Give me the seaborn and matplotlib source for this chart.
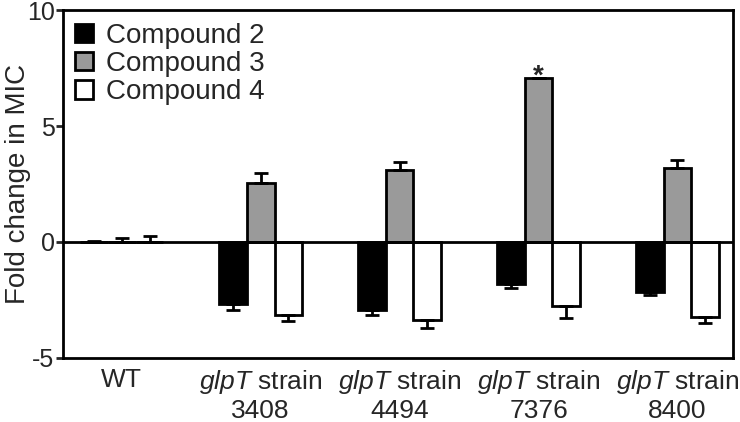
import matplotlib
matplotlib.use("Agg")
import matplotlib.pyplot as plt
import numpy as np
import pandas as pd
import seaborn as sns

sns.set_style("white")
plt.rcParams['font.family'] = ['Liberation Sans', 'DejaVu Sans']
plt.rcParams['mathtext.fontset'] = 'custom'
plt.rcParams['mathtext.it'] = 'Liberation Sans:italic'
plt.rcParams['mathtext.rm'] = 'Liberation Sans'
plt.rcParams['axes.unicode_minus'] = False

strains = ['WT', '3408', '4494', '7376', '8400']
tick_labels = ['WT'] + [r'$\mathit{glpT}$ strain' + '\n' + s for s in strains[1:]]
compounds = ['Compound 2', 'Compound 3', 'Compound 4']

comp2 = [0.0, -2.66, -2.93, -1.80, -2.14]
comp3 = [0.0, 2.53, 3.10, 7.07, 3.18]
comp4 = [0.0, -3.16, -3.38, -2.77, -3.23]
err2 = [0.02, 0.29, 0.22, 0.20, 0.13]
err3 = [0.19, 0.46, 0.36, 0.0, 0.34]
err4 = [0.26, 0.26, 0.35, 0.51, 0.26]

df = pd.DataFrame({
    'strain': strains * 3,
    'compound': [c for c in compounds for _ in strains],
    'value': comp2 + comp3 + comp4,
    'err': err2 + err3 + err4,
})

fig = plt.figure(figsize=(7.4, 4.22), dpi=100)
ax = fig.add_axes([0.085, 0.152, 0.9055, 0.824])

palette = {'Compound 2': 'black', 'Compound 3': '#9a9a9a', 'Compound 4': 'white'}
sns.barplot(data=df, x='strain', y='value', hue='compound', order=strains,
            hue_order=compounds, palette=palette, width=0.6, errorbar=None,
            edgecolor='black', linewidth=2, ax=ax)

# one-sided error bars placed on the seaborn bars
for bars, comp in zip(ax.containers, compounds):
    sub = df[df['compound'] == comp].set_index('strain').loc[strains]
    xs = [b.get_x() + b.get_width() / 2 for b in bars]
    vals = sub['value'].values
    errs = sub['err'].values
    lower = np.where(vals < 0, errs, 0)
    upper = np.where(vals >= 0, errs, 0)
    ax.errorbar(xs, vals, yerr=[lower, upper], fmt='none', ecolor='black',
                elinewidth=2, capsize=5, capthick=2, zorder=1)

# significance star
star_bar = ax.containers[1][3]
ax.text(star_bar.get_x() + star_bar.get_width() / 2, comp3[3] - 0.25, '*',
        ha='center', va='baseline', fontsize=20, fontweight='bold')

ax.axhline(0, color='black', linewidth=2, zorder=3)
ax.set_ylim(-5, 10)
ax.set_xlim(-0.424, 4.40)
ax.set_yticks([-5, 0, 5, 10])
ax.set_xticks(range(len(strains)))
ax.set_xticklabels(tick_labels, fontsize=19, linespacing=1.2)
ax.tick_params(axis='y', labelsize=18, direction='out', length=5, width=2, left=True, pad=1)
ax.tick_params(axis='x', length=0, pad=7)
ax.set_xlabel('')
ax.set_ylabel('Fold change in MIC', fontsize=20)
ax.yaxis.set_label_coords(-0.047, 0.5)
for s in ax.spines.values():
    s.set_linewidth(2)
    s.set_color('black')

ax.legend(loc='upper left', frameon=False, fontsize=20, handlelength=0.65,
          handleheight=0.65, handletextpad=0.45, labelspacing=0.08,
          borderaxespad=0.05, bbox_to_anchor=(0.0, 1.0))

fig.savefig('out.png', dpi=100)
